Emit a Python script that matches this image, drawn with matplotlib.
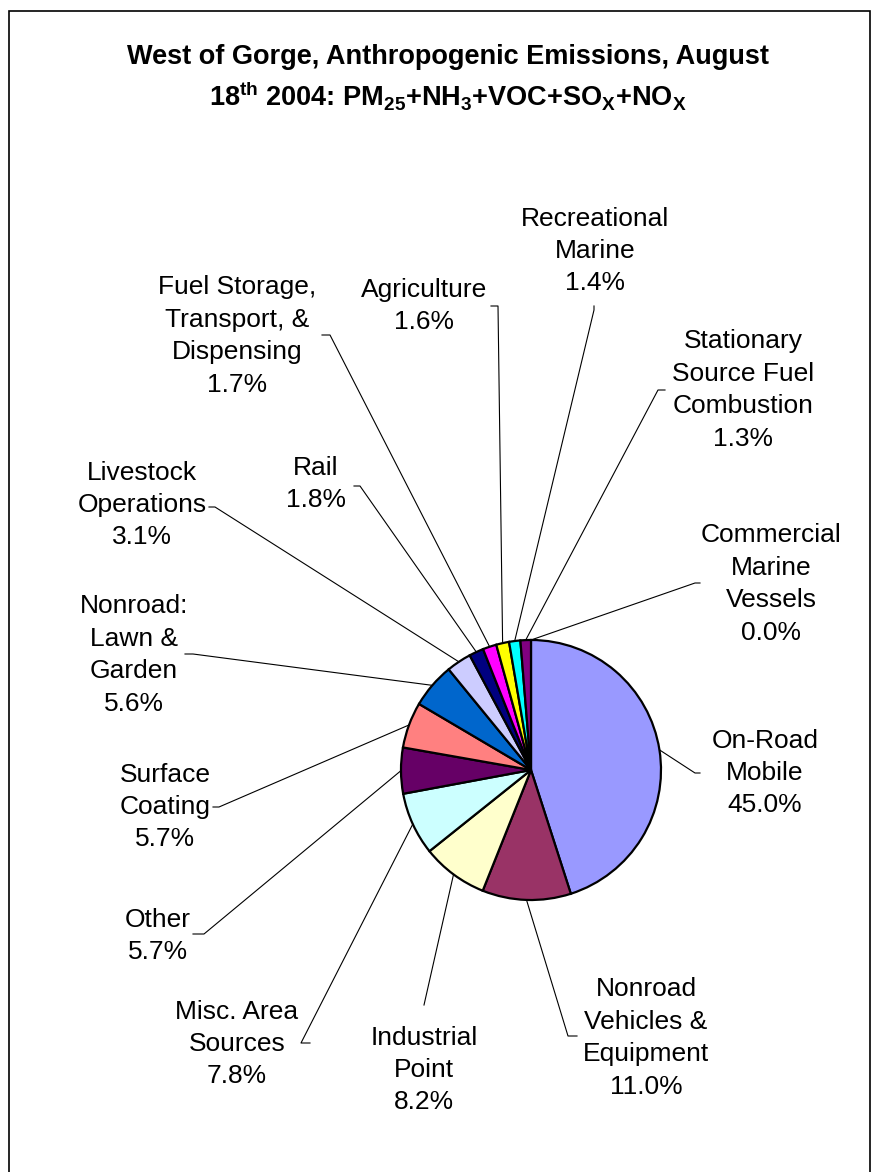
import numpy as np
import matplotlib.pyplot as plt
from matplotlib.patches import Rectangle

plt.rcParams['font.family'] = ['Liberation Sans', 'DejaVu Sans']
plt.rcParams['mathtext.fontset'] = 'custom'
plt.rcParams['mathtext.rm'] = 'Liberation Sans'
plt.rcParams['mathtext.bf'] = 'Liberation Sans:bold'

# slices, clockwise from 12 o'clock
sources = ['Commercial\nMarine\nVessels', 'On-Road\nMobile', 'Nonroad\nVehicles &\nEquipment',
           'Industrial\nPoint', 'Misc. Area\nSources', 'Other', 'Surface\nCoating',
           'Nonroad:\nLawn &\nGarden', 'Livestock\nOperations', 'Rail',
           'Fuel Storage,\nTransport, &\nDispensing', 'Agriculture', 'Recreational\nMarine',
           'Stationary\nSource Fuel\nCombustion']
shares = [0.0, 45.0, 11.0, 8.2, 7.8, 5.7, 5.7, 5.6, 3.1, 1.8, 1.7, 1.6, 1.4, 1.3]
colors = ['#800000', '#9999FF', '#993366', '#FFFFCC', '#CCFFFF', '#660066', '#FF8080',
          '#0066CC', '#CCCCFF', '#000080', '#FF00FF', '#FFFF00', '#00FFFF', '#800080']

W, H = 875, 1172
def Y(py):
    return H - py

# label centres (pixels from top-left)
label_pos = [(771, 584), (765, 773), (646, 1038), (424, 1070), (237, 1044), (158, 936),
             (165, 807), (134, 655), (142, 505), (316, 484), (237, 336), (424, 306),
             (595, 251), (743, 390)]
# leader start/elbow points near the labels
leader = [((700, 583), (695, 583)), ((700, 773), (695, 773)), ((577, 1036), (568, 1036)),
          ((424, 1005), (424, 1005)), ((310, 1043), (301, 1043)), ((193, 934), (204, 934)),
          ((213, 807), (219, 807)), ((185, 654), (193, 654)), ((209, 507), (215, 507)),
          ((354, 486), (360, 486)), ((322, 335), (330, 335)), ((491, 306), (498, 306)),
          ((594, 306), (594, 310)), ((665, 390), (658, 390))]

fig = plt.figure(figsize=(W / 100, H / 100), dpi=100)
ax = fig.add_axes([0, 0, 1, 1])

cx, cy, r = 531, Y(770), 130
wedges, _ = ax.pie(shares, colors=colors, startangle=90, counterclock=False,
                   center=(cx, cy), radius=r, frame=True,
                   wedgeprops=dict(edgecolor='black', linewidth=1.6))
ax.set_xlim(0, W)
ax.set_ylim(0, H)
ax.set_aspect('equal')
ax.axis('off')

for w, name, val, (tx, ty), (p0, p1) in zip(wedges, sources, shares, label_pos, leader):
    ax.text(tx, Y(ty), f'{name}\n{val:.1f}%', ha='center', va='center',
            fontsize=19, linespacing=1.44)
    a = np.deg2rad((w.theta1 + w.theta2) / 2)
    ex, ey = cx + r * np.cos(a), cy + r * np.sin(a)
    ax.plot([p0[0], p1[0], ex], [Y(p0[1]), Y(p1[1]), ey], color='black', lw=0.8)

ax.text(448, Y(57), 'West of Gorge, Anthropogenic Emissions, August',
        ha='center', va='center', fontsize=19.5, fontweight='bold')
ax.text(448, Y(96), r'18$^{\mathbf{th}}$ 2004: PM$_{\mathbf{25}}$+NH$_{\mathbf{3}}$+VOC+SO$_{\mathbf{X}}$+NO$_{\mathbf{X}}$',
        ha='center', va='center', fontsize=19.5, fontweight='bold')

ax.add_patch(Rectangle((9, -20), 861, H + 20 - 11, fill=False, edgecolor='black', lw=1.2))

fig.savefig('out.png', dpi=100)
